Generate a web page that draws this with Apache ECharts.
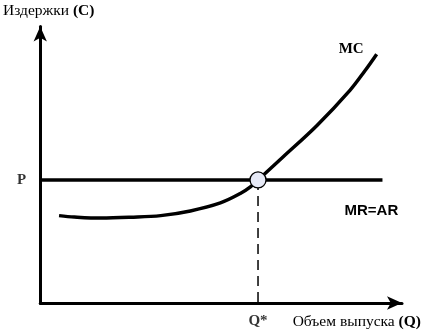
<!DOCTYPE html>
<html>
<head>
<meta charset="utf-8">
<script src="https://cdn.jsdelivr.net/npm/echarts@6/dist/echarts.min.js"></script>
<style>
  html, body { margin: 0; padding: 0; background: #fff; }
  #chart { width: 424px; height: 332px; }
</style>
</head>
<body>
<div id="chart"></div>
<script>
// Marginal cost curve (Q, C) of a competitive firm
const mcCurve = [
  [5.2, 31.6], [9.4, 31.1], [16.8, 30.7], [25.0, 31.0], [33.3, 31.6],
  [41.5, 33.3], [49.8, 36.2], [55.3, 39.6], [58.1, 42.0], [60.2, 44.5],
  [67.1, 52.8], [76.5, 64.2], [85.6, 76.9], [89.7, 83.9], [93.0, 90.0]
];
// Market price: MR = AR = P
const priceLevel = 44.5;
const priceLineEnd = 94.6;
// Profit-maximising output where MC = MR
const optimalQ = 60.2;

const axisNames = { y: 'Издержки ', yBold: '(C)', x: 'Объем выпуска ', xBold: '(Q)' };
const markLabels = { p: 'P', q: 'Q*', mc: 'MC', mr: 'MR=AR' };

const serif = 'Liberation Serif';
const sans = 'Liberation Sans';

const chart = echarts.init(document.getElementById('chart'), null, { renderer: 'canvas' });

const axisLine = {
  show: true,
  symbol: ['none', 'arrow'],
  symbolSize: [10, 15],
  lineStyle: { color: '#000', width: 3 }
};

chart.setOption({
  animation: false,
  backgroundColor: '#fff',
  grid: { left: 39, right: 21.5, top: 26.5, bottom: 29, containLabel: false },
  xAxis: {
    type: 'value', min: 0, max: 100,
    axisLine: axisLine,
    axisTick: { show: false }, axisLabel: { show: false }, splitLine: { show: false },
    name: axisNames.x + '{b|' + axisNames.xBold + '}',
    nameLocation: 'end',
    nameGap: 19,
    nameTextStyle: {
      fontFamily: serif, fontSize: 15.5, color: '#000',
      align: 'right', verticalAlign: 'top', padding: [11, 0, 0, 0],
      rich: { b: { fontFamily: serif, fontSize: 15.5, fontWeight: 'bold', color: '#000' } }
    }
  },
  yAxis: {
    type: 'value', min: 0, max: 100,
    axisLine: axisLine,
    axisTick: { show: false }, axisLabel: { show: false }, splitLine: { show: false },
    name: axisNames.y + '{b|' + axisNames.yBold + '}',
    nameLocation: 'end',
    nameGap: 8,
    nameTextStyle: {
      fontFamily: serif, fontSize: 15.5, color: '#000',
      align: 'center', padding: [0, 0, 0, 17],
      rich: { b: { fontFamily: serif, fontSize: 15.5, fontWeight: 'bold', color: '#000' } }
    }
  },
  series: [
    {
      // horizontal price line MR = AR
      type: 'line',
      data: [[0, priceLevel], [priceLineEnd, priceLevel]],
      showSymbol: false, symbol: 'none',
      lineStyle: { color: '#000', width: 3.5 },
      endLabel: { show: true, formatter: markLabels.mr, offset: [-46, 30.5],
                  fontFamily: sans, fontWeight: 'bold', fontSize: 15, color: '#000' },
      z: 3
    },
    {
      // marginal cost curve
      type: 'line',
      data: mcCurve,
      smooth: 0.35,
      showSymbol: false, symbol: 'none',
      lineStyle: { color: '#000', width: 3.5 },
      endLabel: { show: true, formatter: markLabels.mc, offset: [-46, -5],
                  fontFamily: serif, fontWeight: 'bold', fontSize: 15, color: '#000' },
      z: 3
    },
    {
      // drop line from the equilibrium to the output axis
      type: 'line',
      data: [[optimalQ, priceLevel], [optimalQ, 0]],
      showSymbol: false, symbol: 'none',
      lineStyle: { color: '#000', width: 1.5, type: [10, 6] },
      z: 2
    },
    {
      // axis markers for the equilibrium price and output
      type: 'scatter',
      data: [
        { value: [0, priceLevel],
          label: { show: true, formatter: markLabels.p, position: 'left', distance: 14 } },
        { value: [optimalQ, 0],
          label: { show: true, formatter: markLabels.q, position: 'bottom', distance: 11 } }
      ],
      symbolSize: 0,
      label: { fontFamily: serif, fontWeight: 'bold', fontSize: 15, color: '#000' },
      z: 4
    },
    {
      // equilibrium point MC = MR
      type: 'scatter',
      data: [[optimalQ, priceLevel]],
      symbol: 'circle',
      symbolSize: 16,
      itemStyle: { color: '#e6e9f6', opacity: 1, borderColor: '#000', borderWidth: 1.3 },
      emphasis: { disabled: true },
      z: 5
    }
  ]
});
</script>
</body>
</html>
